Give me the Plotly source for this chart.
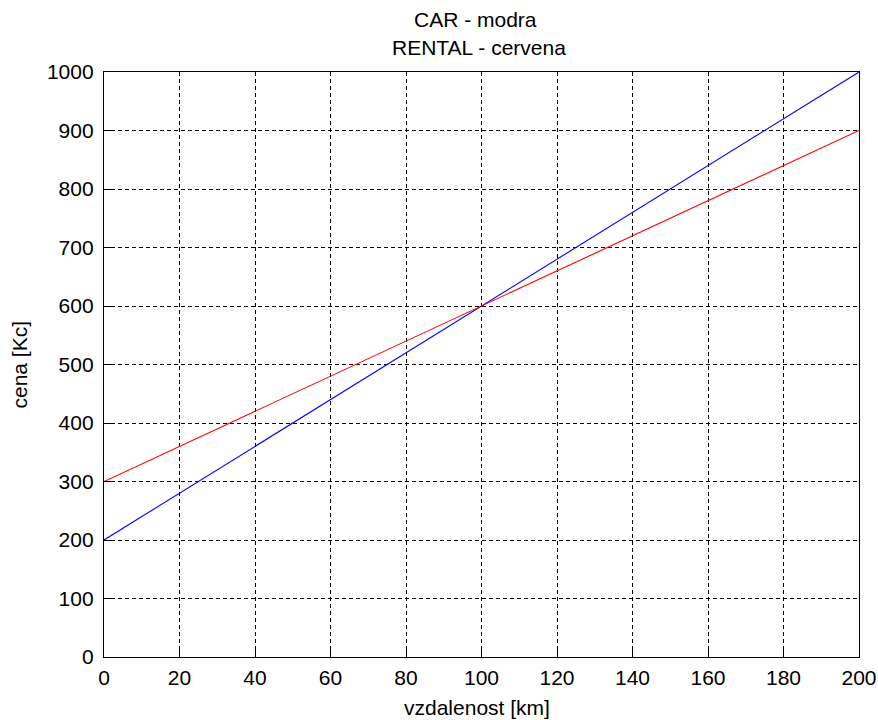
import plotly.graph_objects as go

vzdalenost = [0, 200]
car_cena = [200, 1000]
rental_cena = [300, 900]
x_ticks = [0, 20, 40, 60, 80, 100, 120, 140, 160, 180, 200]
y_ticks = [0, 100, 200, 300, 400, 500, 600, 700, 800, 900, 1000]

fig = go.Figure()
fig.add_trace(go.Scatter(x=vzdalenost, y=car_cena, mode="lines",
                         line=dict(color="#0000ff", width=1.1), name="CAR"))
fig.add_trace(go.Scatter(x=vzdalenost, y=rental_cena, mode="lines",
                         line=dict(color="#ff0000", width=1.1), name="RENTAL"))

font = dict(family="Liberation Sans, Arial, sans-serif", size=21, color="#000000")
axis_common = dict(showgrid=True, gridcolor="#000000", griddash="4px,3px", gridwidth=1,
                   showline=True, linecolor="#000000", linewidth=1.3, mirror=True,
                   ticks="inside", ticklen=7, tickcolor="#000000", zeroline=False,
                   tickfont=font, automargin=False)

# plot area in page px: left 104, right 859, top 72, bottom 657 (body margin removed)
W, H = 878, 720
L, R, T, B = 104, 19, 72, 63
pw, ph = W - L - R, H - T - B

def px_x(x):
    return (x - L) / pw

def px_y(y):
    return (H - B - y) / ph

annotations = [
    dict(text="CAR - modra", x=px_x(475), y=px_y(19.5), xref="paper", yref="paper",
         xanchor="center", yanchor="middle", showarrow=False, font=font),
    dict(text="RENTAL - cervena", x=px_x(479), y=px_y(47.5), xref="paper", yref="paper",
         xanchor="center", yanchor="middle", showarrow=False, font=font),
    dict(text="vzdalenost [km]", x=px_x(476.5), y=px_y(707), xref="paper", yref="paper",
         xanchor="center", yanchor="middle", showarrow=False, font=font),
    dict(text="cena [Kc]", x=px_x(19), y=0.5, xref="paper", yref="paper",
         xanchor="center", yanchor="middle", showarrow=False, textangle=-90, font=font),
]

fig.update_layout(
    width=W, height=H,
    margin=dict(l=L, r=R, t=T, b=B, autoexpand=False),
    paper_bgcolor="#ffffff", plot_bgcolor="#ffffff",
    showlegend=False,
    font=font,
    annotations=annotations,
    xaxis=dict(range=[0, 200], tickvals=x_ticks, ticklabelstandoff=2, **axis_common),
    yaxis=dict(range=[0, 1000], tickvals=y_ticks, ticklabelstandoff=5, **axis_common),
)

fig.write_html(
    "out.html",
    config={"displayModeBar": False},
    post_script="document.body.style.margin='0';document.body.style.overflow='hidden';",
)
